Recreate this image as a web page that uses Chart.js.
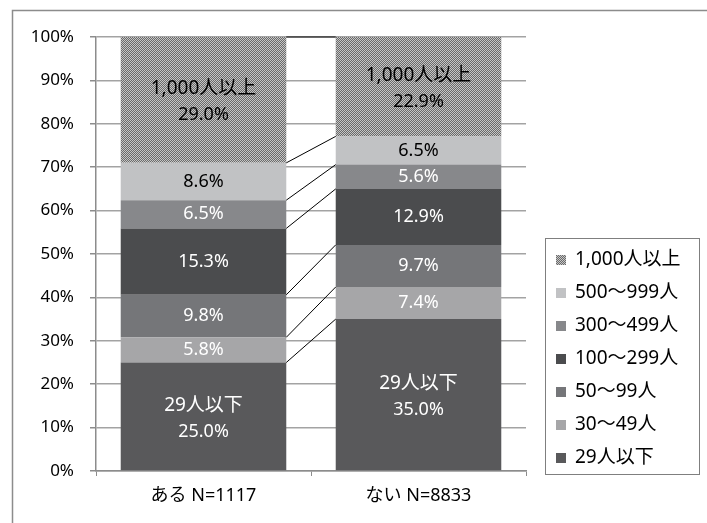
<!DOCTYPE html>
<html>
<head>
<meta charset="utf-8">
<script src="https://cdn.jsdelivr.net/npm/chart.js@4/dist/chart.umd.min.js"></script>
<style>
  html, body { margin: 0; padding: 0; background: #fff; }
  canvas { display: block; }
</style>
</head>
<body>
<canvas id="myChart" width="707" height="523"></canvas>
<script>
const categories = ['ある N=1117', 'ない N=8833'];
const sizeLabels = ['29人以下', '30～49人', '50～99人', '100～299人', '300～499人', '500～999人', '1,000人以上'];
const aruValues = [25.0, 5.8, 9.8, 15.3, 6.5, 8.6, 29.0];
const naiValues = [35.0, 7.4, 9.7, 12.9, 5.6, 6.5, 22.9];

const FONT = '"Noto Sans", "Noto Sans CJK JP", sans-serif';

// fine checker fill for the 1,000人以上 band
function checkerPattern() {
  const c = document.createElement('canvas');
  c.width = 2; c.height = 2;
  const g = c.getContext('2d');
  g.fillStyle = '#6a6a6a';
  g.fillRect(0, 0, 2, 2);
  g.fillStyle = '#c6c6c6';
  g.fillRect(0, 0, 1, 1);
  g.fillRect(1, 1, 1, 1);
  return g.createPattern(c, 'repeat');
}

const ctx = document.getElementById('myChart').getContext('2d');
const fills = ['#59595b', '#a6a6a8', '#757679', '#4b4c4e', '#87888b', '#c1c2c4', checkerPattern()];
const textColors = ['#fff', '#fff', '#fff', '#fff', '#fff', '#000', '#000'];

const datasets = sizeLabels.map((name, i) => ({
  label: name,
  data: [aruValues[i], naiValues[i]],
  backgroundColor: fills[i],
  borderWidth: 0
}));

const framePlugin = {
  id: 'frame',
  beforeDraw(chart) {
    const c = chart.ctx;
    c.save();
    c.strokeStyle = '#8c8c8c';
    c.lineWidth = 1.5;
    c.beginPath();
    c.moveTo(12.5, 523);
    c.lineTo(12.5, 10.5);
    c.lineTo(707, 10.5);
    c.stroke();
    c.restore();
  }
};

// series lines between the two stacks
const connectorPlugin = {
  id: 'connectors',
  afterDatasetsDraw(chart) {
    const c = chart.ctx;
    c.save();
    c.strokeStyle = '#000';
    c.lineWidth = 1;
    chart.data.datasets.forEach((ds, i) => {
      const bars = chart.getDatasetMeta(i).data;
      const a = bars[0], b = bars[1];
      c.beginPath();
      c.moveTo(a.x + a.width / 2, a.y);
      c.lineTo(b.x - b.width / 2, b.y);
      c.stroke();
    });
    c.restore();
  }
};

const valueLabelPlugin = {
  id: 'valueLabels',
  afterDatasetsDraw(chart) {
    const c = chart.ctx;
    const last = chart.data.datasets.length - 1;
    c.save();
    c.textAlign = 'center';
    c.textBaseline = 'middle';
    chart.data.datasets.forEach((ds, i) => {
      chart.getDatasetMeta(i).data.forEach((bar, j) => {
        const txt = ds.data[j].toFixed(1) + '%';
        const cy = (bar.y + bar.base) / 2;
        c.fillStyle = textColors[i];
        c.font = '18px ' + FONT;
        if (i === 0 || i === last) {
          c.font = '19px ' + FONT;
          c.fillText(ds.label, bar.x, cy - 11);
          c.font = '18px ' + FONT;
          c.fillText(txt, bar.x, cy + 15);
        } else {
          c.fillText(txt, bar.x, cy);
        }
      });
    });
    c.restore();
  }
};

const legendPlugin = {
  id: 'sideLegend',
  afterDraw(chart) {
    const c = chart.ctx;
    c.save();
    c.strokeStyle = '#7f7f7f';
    c.lineWidth = 1;
    c.strokeRect(545.5, 238.5, 154, 236);
    c.font = '19px ' + FONT;
    c.textAlign = 'left';
    c.textBaseline = 'middle';
    const list = chart.data.datasets.slice().reverse();
    list.forEach((ds, k) => {
      const y = 260 + k * 33;
      c.fillStyle = ds.backgroundColor;
      c.fillRect(556, y - 5, 10, 10);
      c.fillStyle = '#000';
      c.fillText(ds.label, 575, y);
    });
    c.restore();
  }
};

new Chart(ctx, {
  type: 'bar',
  data: { labels: categories, datasets: datasets },
  plugins: [framePlugin, connectorPlugin, valueLabelPlugin, legendPlugin],
  options: {
    responsive: false,
    animation: false,
    layout: { padding: { top: 37, right: 181, bottom: 0, left: 0 } },
    plugins: { legend: { display: false }, tooltip: { enabled: false } },
    datasets: { bar: { categoryPercentage: 1, barPercentage: 0.77 } },
    scales: {
      x: {
        stacked: true,
        afterFit(s) { s.height = 52; },
        grid: { offset: true, drawOnChartArea: false, color: '#8c8c8c', tickLength: 5 },
        border: { color: '#8c8c8c', width: 1.5 },
        ticks: { color: '#000', padding: 9, font: { family: FONT, size: 18 } }
      },
      y: {
        stacked: true,
        min: 0,
        max: 100,
        afterFit(s) { s.width = 96; },
        grid: { color: '#a3a3a3', lineWidth: 1.5, tickLength: 6, tickColor: '#8c8c8c' },
        border: { color: '#8c8c8c', width: 1.5 },
        ticks: {
          stepSize: 10,
          color: '#000',
          padding: 16,
          font: { family: FONT, size: 17 },
          callback: v => v + '%'
        }
      }
    }
  }
});
</script>
</body>
</html>
